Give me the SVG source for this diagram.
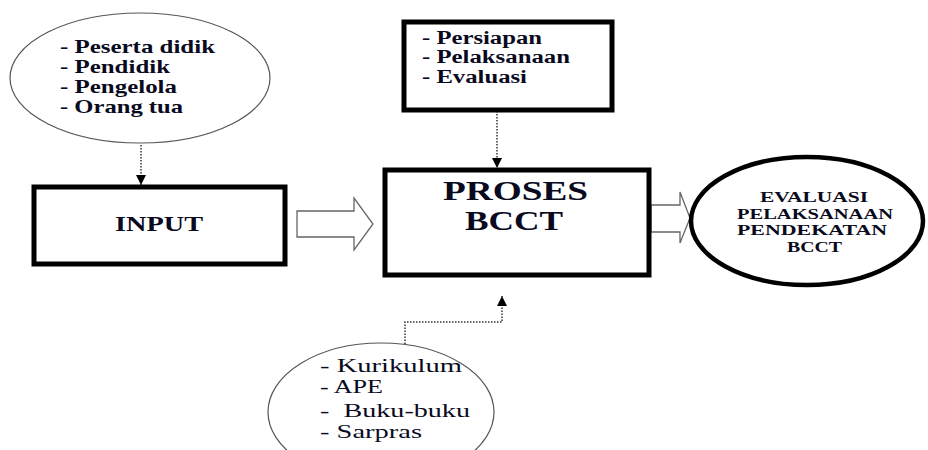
<svg xmlns="http://www.w3.org/2000/svg" width="928" height="450" viewBox="0 0 928 450">
<defs>
<style>
.t{font-weight:bold;fill:#0a0a1e}
.r{fill:#0a0a1e}
.thin{fill:#fff;stroke:#555;stroke-width:1.2}
.box{fill:#fff;stroke:#000;stroke-width:5}
.dot{fill:none;stroke:#333;stroke-width:1.5;stroke-dasharray:1.5 1.5}
.hollow{fill:#fff;stroke:#666;stroke-width:1.3}
</style>
<marker id="ah" viewBox="0 0 10 10" refX="10" refY="5" markerWidth="10" markerHeight="10" markerUnits="userSpaceOnUse" orient="auto">
<path d="M0,0 L10,5 L0,10 z" fill="#000"/>
</marker>
</defs>
<rect width="928" height="450" fill="#fff"/>
<g id="connectors">
<path class="dot" d="M141,145 V185" marker-end="url(#ah)"/>
<path class="dot" d="M497,111 V168" marker-end="url(#ah)"/>
<path class="dot" d="M405,347 V322 H502 V296" marker-end="url(#ah)"/>
<path class="hollow" d="M297,211 H354 V198 L373,224 L354,250 V237 H297 Z"/>
<path class="hollow" d="M651,205 H680 V192 L690,218 L680,243 V232 H651 Z"/>
</g>
<g font-family="Liberation Serif, DejaVu Serif, serif">
<g id="stakeholders">
<ellipse class="thin" cx="140" cy="78" rx="130" ry="65"/>
<text class="t" font-size="19" x="60" y="53" textLength="155" lengthAdjust="spacingAndGlyphs">- Peserta didik</text>
<text class="t" font-size="19" x="60" y="73" textLength="110" lengthAdjust="spacingAndGlyphs">- Pendidik</text>
<text class="t" font-size="19" x="60" y="93" textLength="117" lengthAdjust="spacingAndGlyphs">- Pengelola</text>
<text class="t" font-size="19" x="60" y="113" textLength="123" lengthAdjust="spacingAndGlyphs">- Orang tua</text>
</g>
<g id="input">
<rect class="box" x="34" y="187" width="251" height="77"/>
<text class="t" font-size="21" x="115" y="231" textLength="88" lengthAdjust="spacingAndGlyphs">INPUT</text>
</g>
<g id="stages">
<rect class="box" x="404" y="22" width="208" height="88"/>
<text class="t" font-size="18" x="422" y="44" textLength="120" lengthAdjust="spacingAndGlyphs">- Persiapan</text>
<text class="t" font-size="18" x="422" y="63" textLength="148" lengthAdjust="spacingAndGlyphs">- Pelaksanaan</text>
<text class="t" font-size="18" x="422" y="83" textLength="105" lengthAdjust="spacingAndGlyphs">- Evaluasi</text>
</g>
<g id="proses">
<rect class="box" x="385" y="170" width="264" height="105"/>
<text class="t" font-size="27" x="443" y="200" textLength="145" lengthAdjust="spacingAndGlyphs">PROSES</text>
<text class="t" font-size="27" x="465" y="230" textLength="98" lengthAdjust="spacingAndGlyphs">BCCT</text>
</g>
<g id="evaluasi">
<ellipse cx="807" cy="221" rx="116" ry="64" fill="#fff" stroke="#000" stroke-width="4.5"/>
<text class="t" font-size="15" x="760" y="202" textLength="108" lengthAdjust="spacingAndGlyphs">EVALUASI</text>
<text class="t" font-size="15" x="737" y="219" textLength="156" lengthAdjust="spacingAndGlyphs">PELAKSANAAN</text>
<text class="t" font-size="15" x="737" y="235" textLength="150" lengthAdjust="spacingAndGlyphs">PENDEKATAN</text>
<text class="t" font-size="15" x="787" y="252" textLength="55" lengthAdjust="spacingAndGlyphs">BCCT</text>
</g>
<g id="resources">
<ellipse class="thin" cx="381" cy="412" rx="113" ry="69"/>
<text class="r" font-size="18" x="320" y="372" textLength="142" lengthAdjust="spacingAndGlyphs">- Kurikulum</text>
<text class="r" font-size="18" x="320" y="393" textLength="63" lengthAdjust="spacingAndGlyphs">- APE</text>
<text class="r" font-size="18" x="320" y="417" textLength="150" lengthAdjust="spacingAndGlyphs" xml:space="preserve">-  Buku-buku</text>
<text class="r" font-size="18" x="320" y="438" textLength="102" lengthAdjust="spacingAndGlyphs">- Sarpras</text>
</g>
</g>
</svg>
